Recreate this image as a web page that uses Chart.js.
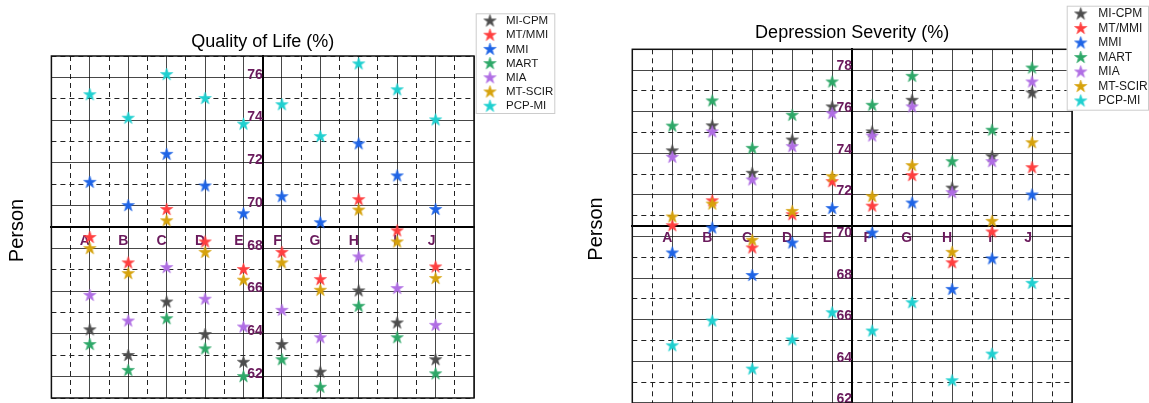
<!DOCTYPE html>
<html>
<head>
<meta charset="utf-8">
<script src="https://cdn.jsdelivr.net/npm/chart.js@4.4.1/dist/chart.umd.min.js"></script>
<style>
  body { margin: 0; background: #fff; }
  canvas { position: absolute; top: 0; }
</style>
</head>
<body>
<canvas id="qol" width="575" height="403" style="left:0"></canvas>
<canvas id="dep" width="574" height="403" style="left:575px"></canvas>
<script>
const categories = ["A", "B", "C", "D", "E", "F", "G", "H", "I", "J"];
const seriesNames = ["MI-CPM", "MT/MMI", "MMI", "MART", "MIA", "MT-SCIR", "PCP-MI"];
const seriesColors = ["#4d4d4d", "#ff3f3f", "#1f64e6", "#2ea868", "#b06ee4", "#d6a20c", "#1fd0d0"];

// Quality of Life (%)
const qolMiCpm = [64.19, 62.99, 65.49, 63.97, 62.67, 63.5, 62.21, 66.01, 64.51, 62.79];
const qolMtMmi = [68.51, 67.32, 69.82, 68.3, 67.01, 67.81, 66.54, 70.28, 68.82, 67.13];
const qolMmi = [71.09, 70.0, 72.4, 70.92, 69.62, 70.42, 69.2, 72.89, 71.39, 69.82];
const qolMart = [63.5, 62.29, 64.71, 63.3, 62.0, 62.79, 61.5, 65.29, 63.82, 62.13];
const qolMia = [65.8, 64.6, 67.1, 65.62, 64.32, 65.1, 63.82, 67.6, 66.12, 64.4];
const qolMtScir = [67.99, 66.82, 69.29, 67.81, 66.51, 67.32, 66.04, 69.79, 68.3, 66.59];
const qolPcpMi = [75.19, 74.09, 76.13, 75.01, 73.81, 74.72, 73.23, 76.63, 75.42, 74.01];
const qolTicks = [62, 64, 66, 68, 70, 72, 74, 76];

// Depression Severity (%)
const depMiCpm = [74.12, 75.32, 73.04, 74.64, 76.23, 75.03, 76.55, 72.33, 73.84, 76.9];
const depMtMmi = [70.52, 71.72, 69.45, 71.05, 72.64, 71.46, 72.93, 68.74, 70.22, 73.31];
const depMmi = [69.21, 70.41, 68.13, 69.69, 71.35, 70.17, 71.61, 67.46, 68.93, 72.0];
const depMart = [75.31, 76.52, 74.24, 75.83, 77.43, 76.31, 77.7, 73.6, 75.11, 78.1];
const depMia = [73.81, 75.03, 72.72, 74.32, 75.91, 74.83, 76.23, 72.11, 73.6, 77.43];
const depMtScir = [70.94, 71.56, 69.82, 71.21, 72.88, 71.92, 73.41, 69.24, 70.73, 74.51];
const depPcpMi = [64.75, 65.94, 63.63, 65.03, 66.34, 65.46, 66.82, 63.07, 64.35, 67.75];
const depTicks = [62, 64, 66, 68, 70, 72, 74, 76, 78];

const labelColor = "#6a1a5c";
const fontFamily = "'Liberation Sans', Arial, sans-serif";

function starImage(color, r) {
  const size = Math.ceil(r * 2 + 4);
  const c = document.createElement("canvas");
  c.width = size;
  c.height = size;
  const g = c.getContext("2d");
  g.beginPath();
  for (let k = 0; k < 10; k++) {
    const rad = k % 2 === 0 ? r : r * 0.382;
    const a = -Math.PI / 2 + (k * Math.PI) / 5;
    g.lineTo(size / 2 + rad * Math.cos(a), size / 2 + rad * Math.sin(a));
  }
  g.closePath();
  g.fillStyle = color;
  g.fill();
  g.lineWidth = 0.6;
  g.strokeStyle = color;
  g.stroke();
  return c;
}
const stars = seriesColors.map((c) => starImage(c, 6.5));

// centred axes must not push the plot area around
const noPadding = (s) => {
  s.paddingTop = 0;
  s.paddingBottom = 0;
  s.paddingLeft = 0;
  s.paddingRight = 0;
};

// frame round the plot, "Person" label and boxed legend
const decor = {
  id: "decor",
  beforeDatasetsDraw(chart, args, o) {
    const { ctx, chartArea: a } = chart;
    ctx.save();
    ctx.strokeStyle = "#111";
    ctx.lineWidth = 1.5;
    ctx.strokeRect(a.left, a.top, a.right - a.left, a.bottom - a.top);
    ctx.restore();
  },
  afterDraw(chart, args, o) {
    const ctx = chart.ctx;
    ctx.save();
    ctx.fillStyle = "#000";
    ctx.font = "20px " + fontFamily;
    ctx.textAlign = "center";
    ctx.textBaseline = "middle";
    ctx.translate(o.personX, o.personY);
    ctx.rotate(-Math.PI / 2);
    ctx.fillText("Person", 0, 0);
    ctx.restore();

    const b = o.box;
    ctx.save();
    ctx.fillStyle = "#fff";
    ctx.fillRect(b.x, b.y, b.w, b.h);
    ctx.strokeStyle = "#cccccc";
    ctx.lineWidth = 1;
    ctx.strokeRect(b.x + 0.5, b.y + 0.5, b.w - 1, b.h - 1);
    ctx.font = o.fontSize + "px " + fontFamily;
    ctx.textBaseline = "middle";
    ctx.fillStyle = "#1a1a1a";
    chart.data.datasets.forEach((ds, i) => {
      const y = o.rowY + i * o.rowStep;
      const img = ds.pointStyle;
      ctx.drawImage(img, o.starX - img.width / 2, y - img.height / 2);
      ctx.fillText(ds.label, o.textX, y);
    });
    ctx.restore();
  },
};

function makeChart(id, cfg) {
  const series = cfg.series;
  const xValues = [];
  for (let v = -1; v <= 10; v += 0.5) xValues.push(v);
  const yValues = [];
  for (let v = cfg.yMin; v <= cfg.yMax; v++) yValues.push(v);

  const tickFont = { family: fontFamily, size: 14, weight: "bold" };

  return new Chart(document.getElementById(id), {
    type: "scatter",
    data: {
      datasets: series.map((vals, i) => ({
        label: seriesNames[i],
        data: vals.map((v, j) => ({ x: j, y: v })),
        pointStyle: stars[i],
        pointRadius: 6,
        backgroundColor: seriesColors[i],
        borderColor: seriesColors[i],
        order: 10 - i,
      })),
    },
    options: {
      responsive: false,
      animation: false,
      layout: { padding: cfg.padding, autoPadding: false },
      plugins: {
        legend: { display: false },
        tooltip: { enabled: false },
        title: {
          display: true,
          text: cfg.title,
          color: "#000",
          font: { family: fontFamily, size: 18, weight: "normal" },
          padding: cfg.titlePadding,
        },
        decor: cfg.decor,
      },
      scales: {
        x: {
          type: "linear",
          min: -1,
          max: 10,
          position: { y: cfg.xCross },
          afterBuildTicks: (s) => {
            s.ticks = xValues.map((v) => ({ value: v }));
          },
          afterFit: noPadding,
          ticks: {
            autoSkip: false,
            maxRotation: 0,
            align: "end",
            padding: cfg.xPad,
            color: labelColor,
            font: tickFont,
            callback: (v) => (Number.isInteger(v) && v >= 0 && v < categories.length ? categories[v] : ""),
          },
          grid: {
            drawTicks: false,
            lineWidth: 1,
            color: (c) => (c.tick && Number.isInteger(c.tick.value) ? "rgba(0,0,0,0.72)" : "#222"),
          },
          border: {
            display: true,
            color: "#000",
            width: 2,
            dash: (c) => (c.tick && !Number.isInteger(c.tick.value) ? [5, 4] : []),
          },
        },
        y: {
          type: "linear",
          min: cfg.yMin,
          max: cfg.yMax,
          position: { x: 4.5 },
          afterBuildTicks: (s) => {
            s.ticks = yValues.map((v) => ({ value: v }));
          },
          afterFit: noPadding,
          ticks: {
            autoSkip: false,
            padding: cfg.yPad,
            labelOffset: cfg.yShift,
            color: labelColor,
            font: tickFont,
            callback: (v) => (cfg.yLabels.includes(v) ? String(v) : ""),
          },
          grid: {
            drawTicks: false,
            lineWidth: 1,
            color: (c) => (c.tick && c.tick.value % 2 === 0 ? "rgba(0,0,0,0.72)" : "#222"),
          },
          border: {
            display: true,
            color: "#000",
            width: 2,
            dash: (c) => (c.tick && c.tick.value % 2 !== 0 ? [5, 4] : []),
          },
        },
      },
    },
    plugins: [decor],
  });
}

makeChart("qol", {
  title: "Quality of Life (%)",
  series: [qolMiCpm, qolMtMmi, qolMmi, qolMart, qolMia, qolMtScir, qolPcpMi],
  yMin: 61,
  yMax: 77,
  xCross: 69,
  yLabels: qolTicks,
  xPad: 6,
  yPad: 3,
  yShift: -2.5,
  padding: { left: 51.4, right: 101, top: 0, bottom: 5 },
  titlePadding: { top: 30.9, bottom: 3.5 },
  decor: {
    personX: 17.5, personY: 230.5,
    box: { x: 475.7, y: 13.3, w: 79.6, h: 100.7 },
    starX: 490, textX: 506, rowY: 21, rowStep: 14.2, fontSize: 11.5,
  },
});

makeChart("dep", {
  title: "Depression Severity (%)",
  series: [depMiCpm, depMtMmi, depMmi, depMart, depMia, depMtScir, depPcpMi],
  yMin: 62,
  yMax: 79,
  xCross: 70.5,
  yLabels: depTicks,
  xPad: 4,
  yPad: -8,
  yShift: -3.5,
  padding: { left: 57.3, right: 77, top: 0, bottom: -0.8 },
  titlePadding: { top: 22.2, bottom: 5.5 },
  decor: {
    personX: 21.7, personY: 229,
    box: { x: 491.7, y: 5.7, w: 82.3, h: 105 },
    starX: 505.7, textX: 523.3, rowY: 14, rowStep: 14.5, fontSize: 12,
  },
});
</script>
</body>
</html>
